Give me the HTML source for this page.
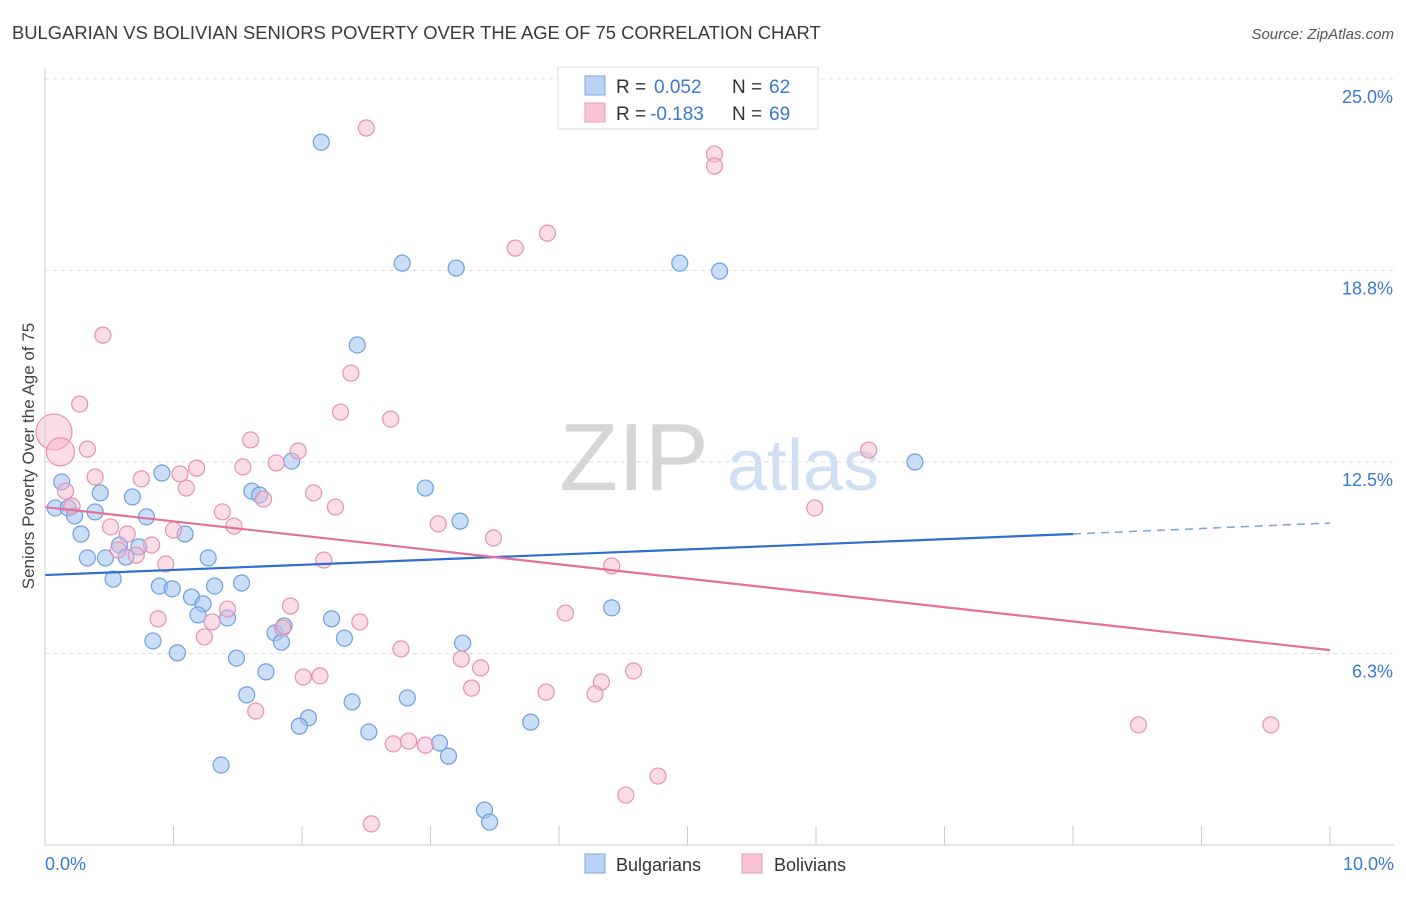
<!DOCTYPE html>
<html><head><meta charset="utf-8">
<style>
body{margin:0;background:#fff;font-family:"Liberation Sans",sans-serif;}
svg text{font-family:"Liberation Sans",sans-serif;}
</style></head>
<body>
<svg id="chart" width="1406" height="892" xmlns="http://www.w3.org/2000/svg">
<text x="12" y="39" font-size="18.4" fill="#3a3a3a">BULGARIAN VS BOLIVIAN SENIORS POVERTY OVER THE AGE OF 75 CORRELATION CHART</text>
<text x="1394" y="39" font-size="15" fill="#555" text-anchor="end" font-style="italic">Source: ZipAtlas.com</text>
<g id="grid"></g>
<g>
<text x="634" y="490" font-size="96" fill="#d6d6d6" text-anchor="middle" font-family="Liberation Serif">ZIP</text>
<text x="803" y="490" font-size="72" fill="#cfe0f5" text-anchor="middle">atlas</text>
</g>
<g id="points"></g>
<g id="trends"></g>
<g id="axes"></g>
<g>
<rect x="558" y="67" width="260" height="62" fill="#fff" stroke="#ddd"/>
<rect x="585" y="76" width="20" height="19" fill="#b9d3f5" stroke="#7aa7e4"/>
<rect x="585" y="103" width="20" height="19" fill="#f9c5d5" stroke="#ea9ab6"/>
<text x="616" y="93" font-size="19" fill="#333">R =</text>
<text x="654" y="93" font-size="19" fill="#3a78d4">0.052</text>
<text x="732" y="93" font-size="19" fill="#333">N =</text>
<text x="769" y="93" font-size="19" fill="#3a78d4">62</text>
<text x="616" y="120" font-size="19" fill="#333">R =</text>
<text x="650" y="120" font-size="19" fill="#3a78d4">-0.183</text>
<text x="732" y="120" font-size="19" fill="#333">N =</text>
<text x="769" y="120" font-size="19" fill="#3a78d4">69</text>
</g>
<g>
<rect x="585" y="854" width="20" height="19" fill="#b9d3f5" stroke="#7aa7e4"/>
<text x="616" y="871" font-size="18" fill="#333">Bulgarians</text>
<rect x="742" y="854" width="20" height="19" fill="#f9c5d5" stroke="#ea9ab6"/>
<text x="774" y="871" font-size="18" fill="#333">Bolivians</text>
</g>
<text transform="translate(34,456) rotate(-90)" font-size="17" fill="#444" text-anchor="middle">Seniors Poverty Over the Age of 75</text>
</svg>
<script>
const blueX=[2.15,2.78,3.20,4.94,5.25,2.43,1.92,6.77,0.91,2.96,0.13,0.43,0.68,1.61,1.67,0.08,0.18,0.39,0.23,0.79,3.23,0.28,1.09,0.58,0.73,0.33,0.47,0.63,1.27,0.53,0.89,0.99,1.32,1.53,1.14,1.23,1.19,1.42,4.41,2.23,1.79,1.86,1.84,2.33,0.84,3.25,1.03,1.49,1.72,1.57,2.82,2.39,2.05,1.98,3.78,2.52,3.07,3.14,1.37,3.42,3.46];
const blueY=[22.94,18.99,18.83,18.99,18.73,16.32,12.53,12.50,12.14,11.65,11.85,11.49,11.36,11.55,11.42,11.0,11.0,10.87,10.74,10.71,10.57,10.15,10.15,9.79,9.73,9.37,9.37,9.40,9.37,8.68,8.45,8.36,8.45,8.55,8.09,7.87,7.51,7.41,7.74,7.38,6.92,7.15,6.62,6.75,6.66,6.59,6.27,6.10,5.65,4.90,4.80,4.67,4.15,3.88,4.01,3.69,3.33,2.90,2.61,1.14,0.75];
const pinkX=[2.50,5.21,5.21,3.66,3.91,0.45,0.27,2.38,2.30,2.69,1.60,0.33,1.97,6.41,0.39,1.54,1.18,1.05,0.75,1.80,1.10,2.09,1.70,0.16,0.21,2.26,5.99,1.38,3.06,1.47,0.51,1.00,0.64,3.49,0.83,0.57,0.71,0.94,2.17,4.41,1.91,1.42,4.05,0.88,1.30,2.45,1.85,1.24,2.77,3.24,3.39,4.58,2.01,2.14,4.33,3.32,3.90,4.28,1.64,8.51,9.54,2.71,2.83,2.96,4.77,4.52,2.54,0.07,0.12];
const pinkY=[23.40,22.55,22.16,19.48,19.97,16.64,14.39,15.40,14.13,13.90,13.22,12.92,12.86,12.89,12.01,12.34,12.30,12.11,11.95,12.47,11.65,11.49,11.29,11.55,11.06,11.03,11.0,10.87,10.48,10.41,10.38,10.28,10.15,10.02,9.79,9.63,9.46,9.17,9.30,9.11,7.80,7.70,7.57,7.38,7.28,7.28,7.08,6.79,6.40,6.07,5.78,5.68,5.48,5.52,5.32,5.12,4.99,4.93,4.37,3.92,3.92,3.30,3.39,3.26,2.25,1.63,0.69,13.48,12.83];
const pinkR=pinkX.map((_,i)=>i===pinkX.length-2?18:(i===pinkX.length-1?14:8));
const blueTrend=[[0,8.81],[8,10.15],[10,10.51]];
const pinkTrend=[[0,11.03],[10,6.36]];
const yTicks=[25,18.75,12.5,6.25];
const yTickLabels=["25.0%","18.8%","12.5%","6.3%"];
const xTicks=[0,1,2,3,4,5,6,7,8,9,10];

const NS="http://www.w3.org/2000/svg";
const X=v=>45+v*128.5;
const Y=v=>845-v*30.64;
function mk(tag,attrs,parent){const e=document.createElementNS(NS,tag);for(const k in attrs)e.setAttribute(k,attrs[k]);parent.appendChild(e);return e;}
const grid=document.getElementById('grid'),axes=document.getElementById('axes'),pts=document.getElementById('points'),tr=document.getElementById('trends');
yTicks.forEach((t,i)=>{
 const l=mk('line',{x1:45,x2:1394,y1:Y(t),y2:Y(t),stroke:'#ddd','stroke-dasharray':'4,4'},grid);
 
 
 const tx=mk('text',{x:1393,y:Y(t)+24,'font-size':18,fill:'#3a78d4','text-anchor':'end'},axes);
 tx.textContent=yTickLabels[i];
 
 
});
const ax=mk('line',{x1:45,x2:1394,y1:845,y2:845,stroke:'#ccc'},axes);


const ay=mk('line',{x1:45,x2:45,y1:68,y2:845,stroke:'#ccc'},axes);


xTicks.forEach(t=>{
 const l=mk('line',{x1:X(t),x2:X(t),y1:826,y2:845,stroke:'#ccc'},axes);
 
 
});
[[0,"0.0%","start",45],[10,"10.0%","end",1394]].forEach(a=>{
 const tx=mk('text',{x:a[3],y:870,'font-size':18,fill:'#3a78d4','text-anchor':a[2]},axes);
 tx.textContent=a[1];
 
 
});
blueX.forEach((x,i)=>{
 const c=mk('circle',{cx:X(x),cy:Y(blueY[i]),r:8,fill:'rgba(160,195,240,0.55)',stroke:'#6d9fe0','stroke-width':1.2},pts);
 
 
});
pinkX.forEach((x,i)=>{
 const c=mk('circle',{cx:X(x),cy:Y(pinkY[i]),r:pinkR[i],fill:'rgba(245,180,202,0.45)',stroke:'#e891b0','stroke-width':1.2},pts);
 
 
});
const b1=mk('line',{x1:X(blueTrend[0][0]),y1:Y(blueTrend[0][1]),x2:X(blueTrend[1][0]),y2:Y(blueTrend[1][1]),stroke:'#2f6fd0','stroke-width':2.2},tr);


const b2=mk('line',{x1:X(blueTrend[1][0]),y1:Y(blueTrend[1][1]),x2:X(blueTrend[2][0]),y2:Y(blueTrend[2][1]),stroke:'#7aa3de','stroke-width':1.5,'stroke-dasharray':'8,6'},tr);


const p1=mk('line',{x1:X(pinkTrend[0][0]),y1:Y(pinkTrend[0][1]),x2:X(pinkTrend[1][0]),y2:Y(pinkTrend[1][1]),stroke:'#e2709b','stroke-width':2.2},tr);


</script>
</body></html>
